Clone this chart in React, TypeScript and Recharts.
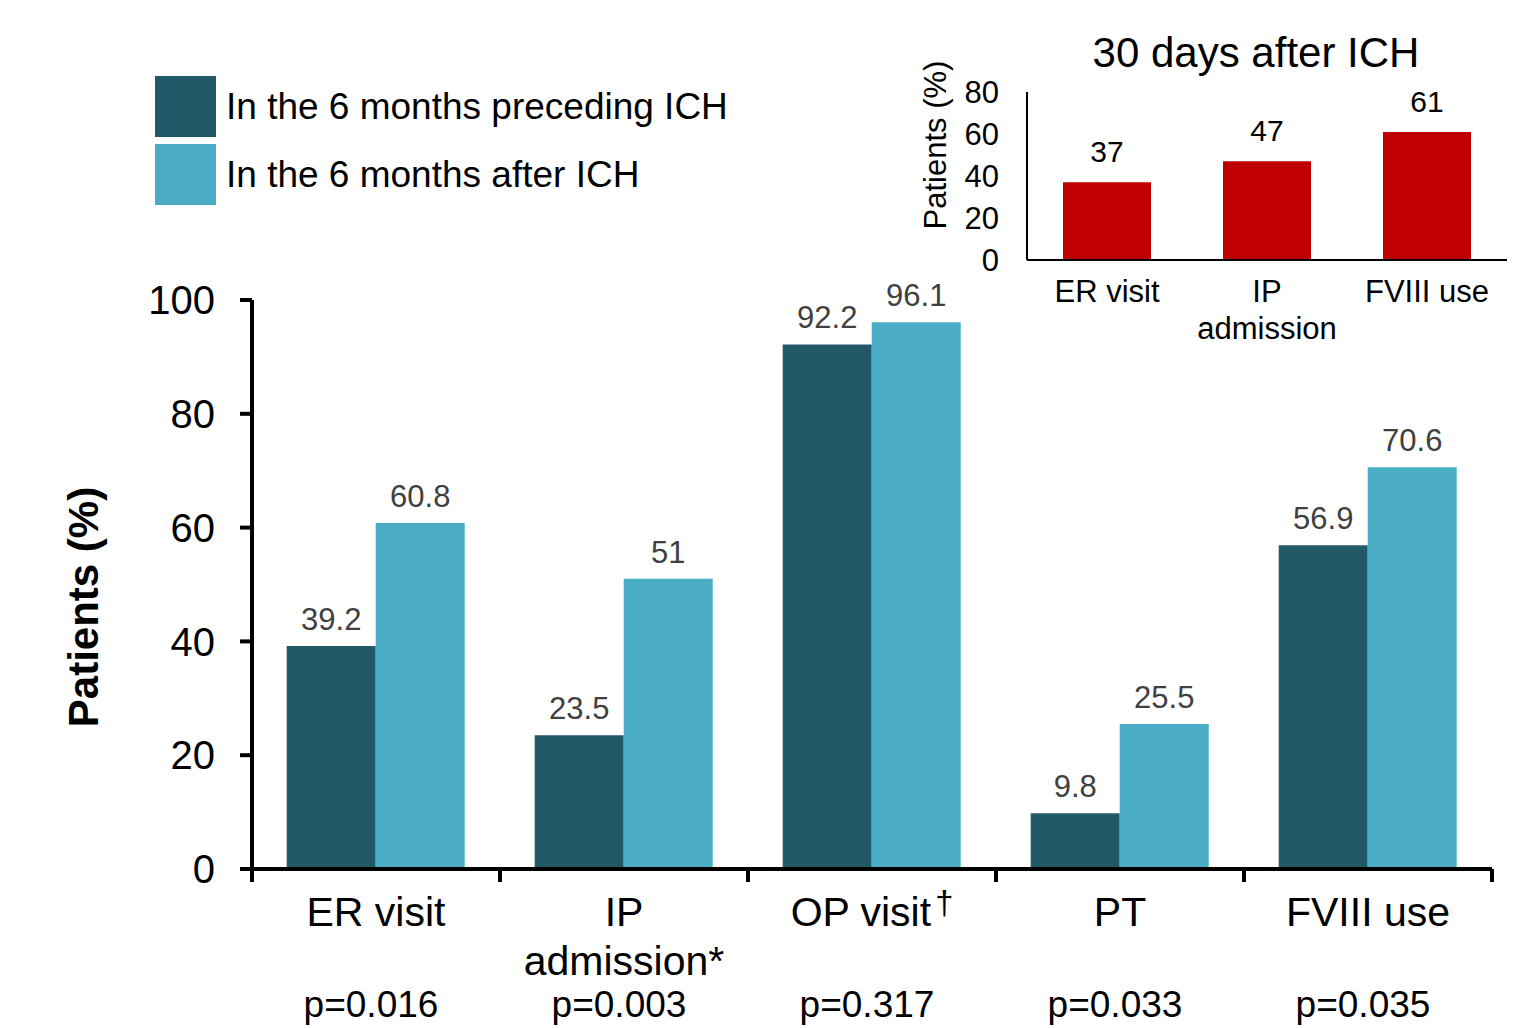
import React from "react";
import { Bar, BarChart, XAxis, YAxis, LabelList } from "recharts";

const FONT = "'Liberation Sans', Arial, sans-serif";

// main chart data
const categories = ["ER visit", "IP admission*", "OP visit†", "PT", "FVIII use"];
const categoryLines = [["ER visit"], ["IP", "admission*"], ["OP visit†"], ["PT"], ["FVIII use"]];
const pValues = ["p=0.016", "p=0.003", "p=0.317", "p=0.033", "p=0.035"];
const before = [39.2, 23.5, 92.2, 9.8, 56.9];
const after = [60.8, 51, 96.1, 25.5, 70.6];
const yTicks = [0, 20, 40, 60, 80, 100];
const seriesNames = ["In the 6 months preceding ICH", "In the 6 months after ICH"];

// inset data
const insetCategories = ["ER visit", "IP admission", "FVIII use"];
const insetLines = [["ER visit"], ["IP", "admission"], ["FVIII use"]];
const insetValues = [37, 47, 61];
const insetTicks = [0, 20, 40, 60, 80];

const DARK = "#215968";
const LIGHT = "#4BACC6";
const RED = "#C00000";
const seriesColors = [DARK, LIGHT];

const MAIN_W = 1516;
const MAIN_H = 1028;
const MAIN_LEFT = 252;
const MAIN_RIGHT = 24;
const MAIN_BAND = (MAIN_W - MAIN_LEFT - MAIN_RIGHT) / categories.length;

const mainRows = categories.map((c, i) => ({ name: c, before: before[i], after: after[i] }));
const insetRows = insetCategories.map((c, i) => ({ name: c, value: insetValues[i] }));

function renderLine(text: string, x: number, y: number, size: number, key: number) {
  if (text.endsWith("†")) {
    return (
      <text key={key} x={x} y={y} textAnchor="middle" fontSize={size} fontFamily={FONT} fill="#000">
        {text.slice(0, -1)}
        <tspan fontSize={size * 0.8} dx={4} dy={-size * 0.3}>†</tspan>
      </text>
    );
  }
  return (
    <text key={key} x={x} y={y} textAnchor="middle" fontSize={size} fontFamily={FONT} fill="#000">
      {text}
    </text>
  );
}

function MainTick(props: any) {
  const { x, y, index } = props;
  const lines = categoryLines[index];
  const last = index === categories.length - 1;
  return (
    <g>
      <line x1={x - MAIN_BAND / 2} x2={x - MAIN_BAND / 2} y1={y} y2={y + 13} stroke="#000" strokeWidth={4} />
      {last && <line x1={x + MAIN_BAND / 2} x2={x + MAIN_BAND / 2} y1={y} y2={y + 13} stroke="#000" strokeWidth={4} />}
      {lines.map((l, i) => renderLine(l, x, y + 57 + i * 49, 41, i))}
      <text x={x - 5} y={y + 148} textAnchor="middle" fontSize={37} fontFamily={FONT} fill="#000">
        {pValues[index]}
      </text>
    </g>
  );
}

function InsetTick(props: any) {
  const { x, y, index } = props;
  const lines = insetLines[index];
  return <g>{lines.map((l, i) => renderLine(l, x, y + 42 + i * 37, 31, i))}</g>;
}

export default function App() {
  return (
    <div style={{ position: "absolute", left: 0, top: 0, width: MAIN_W, height: MAIN_H, background: "#fff" }}>
      <BarChart
        width={MAIN_W}
        height={MAIN_H}
        data={mainRows}
        margin={{ top: 300, right: MAIN_RIGHT, bottom: 0, left: 0 }}
        barCategoryGap="14%"
        barGap={0}
      >
        <XAxis
          dataKey="name"
          height={159}
          interval={0}
          axisLine={{ stroke: "#000", strokeWidth: 4 }}
          tickLine={false}
          tickSize={0}
          tickMargin={0}
          tick={<MainTick />}
        />
        <YAxis
          width={MAIN_LEFT}
          domain={[0, 100]}
          ticks={yTicks}
          axisLine={{ stroke: "#000", strokeWidth: 4 }}
          tickLine={{ stroke: "#000", strokeWidth: 4 }}
          tickSize={12}
          tickMargin={25}
          tick={{ fontSize: 40, fill: "#000", fontFamily: FONT }}
          label={{
            content: (p: any) => {
              const vb = p.viewBox;
              const cx = vb.x + 83;
              const cy = vb.y + 307;
              return (
                <text
                  x={cx}
                  y={cy}
                  transform={`rotate(-90, ${cx}, ${cy})`}
                  textAnchor="middle"
                  dominantBaseline="central"
                  fontSize={42}
                  fontWeight="bold"
                  fontFamily={FONT}
                  fill="#000"
                >
                  Patients (%)
                </text>
              );
            },
          }}
        />
        <Bar dataKey="before" name={seriesNames[0]} fill={DARK} isAnimationActive={false}>
          <LabelList dataKey="before" position="top" offset={16} fill="#404040" fontSize={31} fontFamily={FONT} />
        </Bar>
        <Bar dataKey="after" name={seriesNames[1]} fill={LIGHT} isAnimationActive={false}>
          <LabelList dataKey="after" position="top" offset={16} fill="#404040" fontSize={31} fontFamily={FONT} />
        </Bar>
      </BarChart>

      {/* legend */}
      <div style={{ position: "absolute", left: 155, top: 76, fontFamily: FONT }}>
        {seriesNames.map((n, i) => (
          <div key={n} style={{ display: "flex", alignItems: "center", height: 61, marginBottom: 7 }}>
            <div style={{ width: 61, height: 61, background: seriesColors[i] }} />
            <span style={{ fontSize: 37, marginLeft: 10, color: "#000", whiteSpace: "nowrap" }}>{n}</span>
          </div>
        ))}
      </div>

      <div
        style={{
          position: "absolute",
          left: 1056,
          top: 30,
          width: 400,
          textAlign: "center",
          fontFamily: FONT,
          fontSize: 42,
          color: "#000",
          lineHeight: "46px",
        }}
      >
        30 days after ICH
      </div>

      <div style={{ position: "absolute", left: 900, top: 30 }}>
        <BarChart
          width={616}
          height={330}
          data={insetRows}
          margin={{ top: 62, right: 9, bottom: 0, left: 0 }}
          barCategoryGap="22.5%"
        >
          <XAxis
            dataKey="name"
            height={100}
            interval={0}
            axisLine={{ stroke: "#000", strokeWidth: 2 }}
            tickLine={false}
            tickSize={0}
            tickMargin={0}
            tick={<InsetTick />}
          />
          <YAxis
            width={127}
            domain={[0, 80]}
            ticks={insetTicks}
            axisLine={{ stroke: "#000", strokeWidth: 2 }}
            tickLine={false}
            tickSize={0}
            tickMargin={28}
            tick={{ fontSize: 31, fill: "#000", fontFamily: FONT }}
            label={{
              content: (p: any) => {
                const vb = p.viewBox;
                const cx = vb.x + 35;
                const cy = vb.y + 53;
                return (
                  <text
                    x={cx}
                    y={cy}
                    transform={`rotate(-90, ${cx}, ${cy})`}
                    textAnchor="middle"
                    dominantBaseline="central"
                    fontSize={31}
                    fontFamily={FONT}
                    fill="#000"
                  >
                    Patients (%)
                  </text>
                );
              },
            }}
          />
          <Bar dataKey="value" fill={RED} isAnimationActive={false}>
            <LabelList dataKey="value" position="top" offset={20} fill="#000" fontSize={30} fontFamily={FONT} />
          </Bar>
        </BarChart>
      </div>
    </div>
  );
}
